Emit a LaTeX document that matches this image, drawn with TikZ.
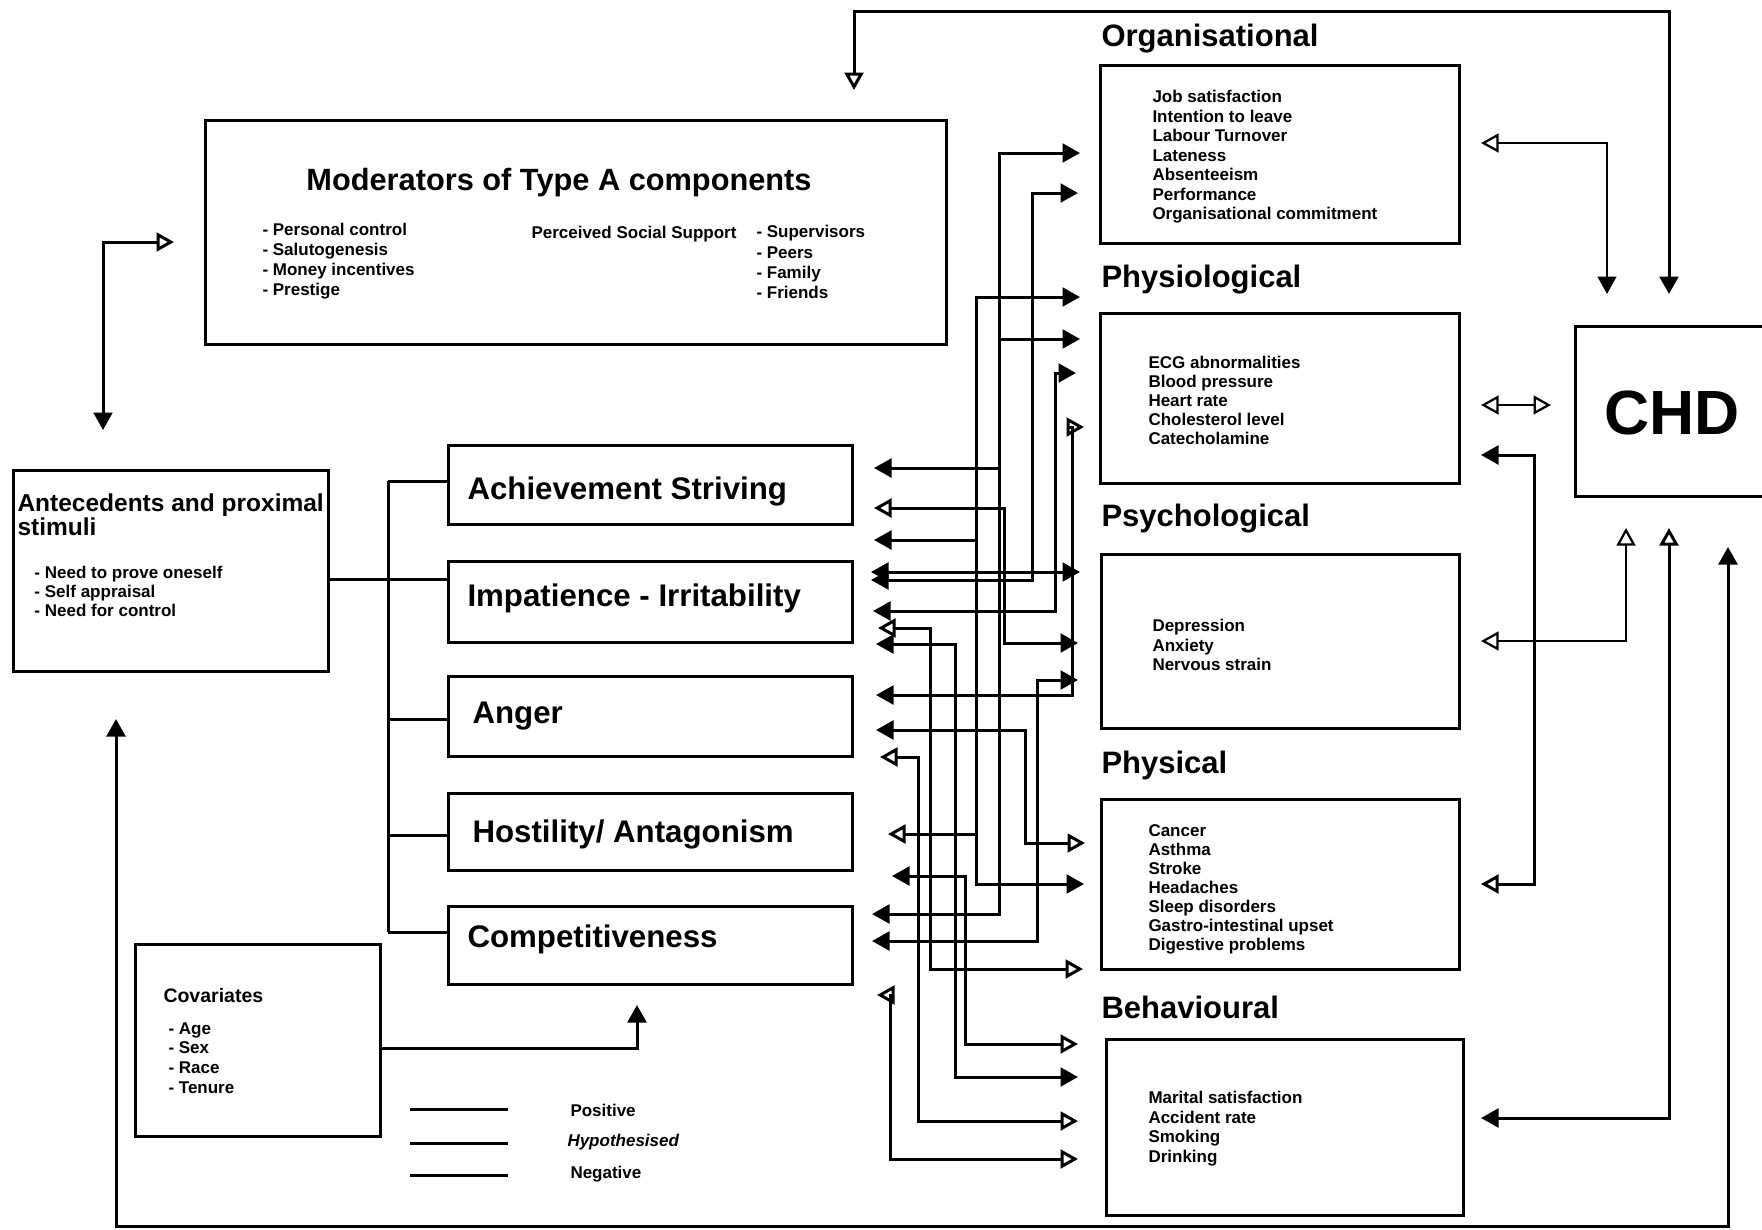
\documentclass[tikz,border=0pt]{standalone}
\usepackage{fontspec}
\setmainfont{Liberation Sans}
\usetikzlibrary{arrows.meta,fit,positioning}

\tikzset{
  fTri/.tip={Triangle[length=7pt,width=7.5pt]},
  oTri/.tip={Triangle[open,length=7pt,width=7.5pt]},
  box/.style={draw,line width=1.2pt,inner sep=0pt},
  wire/.style={line width=1.2pt},
  thinwire/.style={line width=0.9pt},
  comp/.style={anchor=west,inner sep=0pt,font=\fontsize{12.5}{14}\selectfont\bfseries},
  head/.style={anchor=west,inner sep=0pt,font=\fontsize{12.4}{14}\selectfont\bfseries},
  item/.style={anchor=north west,inner sep=0pt,align=left,font=\fontsize{6.8}{7.8}\selectfont\bfseries},
  small/.style={anchor=west,inner sep=0pt,font=\fontsize{6.8}{7.8}\selectfont\bfseries}
}

\begin{document}
\begin{tikzpicture}[x=0.4pt,y=-0.4pt]
\useasboundingbox (0,0) rectangle (1762,1229);

% moderators and antecedents
\node[box,fit={(205,120) (946,344)}] (moder) {};
\node[font=\fontsize{12.3}{14}\selectfont\bfseries] (modtitle) at (559,183) {Moderators of Type A components};
\node[item,font=\fontsize{6.8}{8}\selectfont\bfseries] (modlist) at (262,223) {- Personal control\\- Salutogenesis\\- Money incentives\\- Prestige};
\node[small] (pss) at (531,234) {Perceived Social Support};
\node[item,font=\fontsize{6.8}{8.1}\selectfont\bfseries] (psslist) at (756,225) {- Supervisors\\- Peers\\- Family\\- Friends};

\node[box,fit={(13,470) (328,671)}] (ant) {};
\node[item,font=\fontsize{9.8}{9.5}\selectfont\bfseries] (anttitle) at (17,493) {Antecedents and proximal\\stimuli};
\node[item,font=\fontsize{6.8}{7.6}\selectfont\bfseries] (antlist) at (34,566) {- Need to prove oneself\\- Self appraisal\\- Need for control};

\node[box,fit={(135,944) (380,1136)}] (cov) {};
\node[small,font=\fontsize{7.8}{8}\selectfont\bfseries] (covtitle) at (163,996) {Covariates};
\node[item,font=\fontsize{6.8}{7.9}\selectfont\bfseries] (covlist) at (168,1022) {- Age\\- Sex\\- Race\\- Tenure};

% Type A components
\node[box,fit={(448,445) (852,524)}] (ach) {};
\node[box,fit={(448,561) (852,642)}] (imp) {};
\node[box,fit={(448,676) (852,756)}] (ang) {};
\node[box,fit={(448,793) (852,870)}] (hos) {};
\node[box,fit={(448,906) (852,984)}] (com) {};
\node[comp] (achtext) at (467,491) {Achievement Striving};
\node[comp] (imptext) at (467,598) {Impatience - Irritability};
\node[comp] (angtext) at (472,716) {Anger};
\node[comp] (hostext) at (472,834) {Hostility/ Antagonism};
\node[comp] (comtext) at (467,939) {Competitiveness};

% outcomes
\node[head] (orghead) at (1101,39) {Organisational};
\node[box,fit={(1100,65) (1459,243)}] (org) {};
\node[item] (orglist) at (1152,90) {Job satisfaction\\Intention to leave\\Labour Turnover\\Lateness\\Absenteeism\\Performance\\Organisational commitment};
\node[head] (phyhead) at (1101,280) {Physiological};
\node[box,fit={(1100,313) (1459,483)}] (phy) {};
\node[item,font=\fontsize{6.8}{7.6}\selectfont\bfseries] (phylist) at (1148,356) {ECG abnormalities\\Blood pressure\\Heart rate\\Cholesterol level\\Catecholamine};
\node[head] (psyhead) at (1101,519) {Psychological};
\node[box,fit={(1101,554) (1459,728)}] (psy) {};
\node[item] (psylist) at (1152,619) {Depression\\Anxiety\\Nervous strain};
\node[head] (phshead) at (1101,765) {Physical};
\node[box,fit={(1101,799) (1459,969)}] (phs) {};
\node[item,font=\fontsize{6.8}{7.6}\selectfont\bfseries] (phslist) at (1148,824) {Cancer\\Asthma\\Stroke\\Headaches\\Sleep disorders\\Gastro-intestinal upset\\Digestive problems};
\node[head] (behhead) at (1101,1007) {Behavioural};
\node[box,fit={(1106,1039) (1463,1215)}] (beh) {};
\node[item] (behlist) at (1148,1091) {Marital satisfaction\\Accident rate\\Smoking\\Drinking};

\node[box,fit={(1575,326) (1790,496)}] (chd) {};
\node[font=\fontsize{25}{28}\selectfont\bfseries] (chdtext) at (1672,413) {CHD};

% legend
\draw[wire] (410,1109) -- (508,1109);
\draw[wire] (410,1143) -- (508,1143);
\draw[wire] (410,1175) -- (508,1175);
\node[small] (lgpos) at (570,1110) {Positive};
\node[small,font=\fontsize{6.8}{7.8}\selectfont\bfseries\itshape] (lghyp) at (567,1142) {Hypothesised};
\node[small] (lgneg) at (570,1174) {Negative};

% arrow ends at the components
\coordinate (achA) at (874,468);
\coordinate (achB) at (874,508);
\coordinate (achC) at (874,540);
\coordinate (impA) at (871,572);
\coordinate (impB) at (871,580);
\coordinate (impC) at (873,611);
\coordinate (impD) at (878,628);
\coordinate (impE) at (876,644);
\coordinate (angA) at (876,695);
\coordinate (angB) at (876,730);
\coordinate (angC) at (880,757);
\coordinate (hosA) at (888,834);
\coordinate (hosB) at (892,876);
\coordinate (comA) at (872,914);
\coordinate (comB) at (872,941);
\coordinate (comC) at (877,995);
% arrow ends at the outcomes
\coordinate (orgA) at (1080,153);
\coordinate (orgB) at (1078,193);
\coordinate (phyA) at (1080,297);
\coordinate (phyB) at (1080,339);
\coordinate (phyC) at (1076,373);
\coordinate (phyD) at (1084,427);
\coordinate (psyA) at (1080,572);
\coordinate (psyB) at (1078,643);
\coordinate (psyC) at (1078,680);
\coordinate (phsA) at (1085,843);
\coordinate (phsB) at (1084,884);
\coordinate (phsC) at (1083,969);
\coordinate (behA) at (1078,1044);
\coordinate (behB) at (1078,1077);
\coordinate (behC) at (1078,1121);
\coordinate (behD) at (1078,1159);
% junctions
\coordinate (j1) at (999,339);
\coordinate (j2) at (999,468);
\coordinate (j3) at (976,540);
\coordinate (j4) at (976,834);

% components <-> outcomes
\draw[wire,fTri-fTri] (orgA) -| (999,914) -- (comA);
\draw[wire,-fTri] (j1) -- (phyB);
\draw[wire,-fTri] (j2) -- (achA);
\draw[wire,fTri-fTri] (orgB) -| (1032,580) -- (impB);
\draw[wire,fTri-fTri] (phyA) -| (976,884) -- (phsB);
\draw[wire,-fTri] (j3) -- (achC);
\draw[wire,-oTri] (j4) -- (hosA);
\draw[wire,fTri-fTri] (phyC) -| (1055,611) -- (impC);
\draw[wire,oTri-fTri] (phyD) -| (1072,695) -- (angA);
\draw[wire,oTri-fTri] (achB) -| (1004,643) -- (psyB);
\draw[wire,fTri-fTri] (impA) -- (psyA);
\draw[wire,oTri-oTri] (impD) -| (930,969) -- (phsC);
\draw[wire,fTri-fTri] (impE) -| (955,1077) -- (behB);
\draw[wire,fTri-oTri] (angB) -| (1025,843) -- (phsA);
\draw[wire,oTri-oTri] (angC) -| (918,1121) -- (behC);
\draw[wire,fTri-oTri] (hosB) -| (965,1044) -- (behA);
\draw[wire,fTri-fTri] (comB) -| (1037,680) -- (psyC);
\draw[wire,oTri-oTri] (comC) -| (890,1159) -- (behD);

% antecedents -> components
\coordinate (b1) at (388,481);
\coordinate (b2) at (388,719);
\coordinate (b3) at (388,835);
\coordinate (b4) at (388,932);
\draw[wire] (ant.east |- 0,579) -- (imp.west |- 0,579);
\draw[wire] (b1) -- (b4);
\draw[wire] (b1) -- (b1 -| ach.west);
\draw[wire] (b2) -- (b2 -| ang.west);
\draw[wire] (b3) -- (b3 -| hos.west);
\draw[wire] (b4) -- (b4 -| com.west);

% covariates
\coordinate (covE) at (380,1048);
\coordinate (comT) at (637,1005);
\draw[wire,-fTri] (covE) -| (comT);

% moderators <-> antecedents
\coordinate (antT) at (103,430);
\coordinate (modL) at (174,242);
\draw[wire,fTri-oTri] (antT) |- (modL);

% outcomes <-> CHD
\coordinate (orgR) at (1481,143);
\coordinate (phyR) at (1481,405);
\coordinate (phyR2) at (1481,455);
\coordinate (psyR) at (1481,641);
\coordinate (phsR) at (1481,884);
\coordinate (behR) at (1481,1118);
\coordinate (chdL) at (1551,405);
\coordinate (chdT1) at (1607,294);
\coordinate (chdT2) at (1669,294);
\coordinate (chdB1) at (1626,528);
\coordinate (chdB2) at (1669,528);
\coordinate (chdB3) at (1728,547);
\coordinate (modT) at (854,90);
\coordinate (antB) at (116,719);
\draw[thinwire,oTri-fTri] (orgR) -| (chdT1);
\draw[thinwire,oTri-oTri] (phyR) -- (chdL);
\draw[wire,fTri-oTri] (phyR2) -| (1534,884) -- (phsR);
\draw[thinwire,oTri-oTri] (psyR) -| (chdB1);
\draw[wire,fTri-oTri] (behR) -| (chdB2);

% feedback loops
\draw[wire,fTri-oTri] (chdT2) |- (854,11) -- (modT);
\draw[wire,fTri-fTri] (antB) |- (1728,1226) -- (chdB3);
\end{tikzpicture}
\end{document}
